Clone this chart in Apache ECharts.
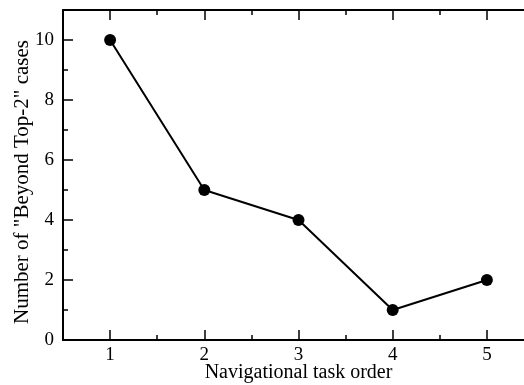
<!DOCTYPE html>
<html>
<head>
<meta charset="utf-8">
<script src="https://cdn.jsdelivr.net/npm/echarts@6/dist/echarts.min.js"></script>
<style>
  html, body { margin: 0; padding: 0; background: #fff; }
  #chart { width: 524px; height: 385px; }
</style>
</head>
<body>
<div id="chart"></div>
<script>
const TASK_ORDER = [1, 2, 3, 4, 5]
const BEYOND_TOP2 = [10, 5, 4, 1, 2]

const X_MAJOR_TICKS = [1, 2, 3, 4, 5]
const X_MINOR_TICKS = [1.5, 2.5, 3.5, 4.5]
const Y_MAJOR_TICKS = [0, 2, 4, 6, 8, 10]
const Y_MINOR_TICKS = [1, 3, 5, 7, 9]

const FONT = 'Liberation Serif'
const INK = '#000'

const chart = echarts.init(document.getElementById('chart'))

// extra axis that only draws a set of ticks (minor ticks, mirrored top ticks)
function tickAxis(position, values, len, extra) {
  return Object.assign({
    type: 'value',
    position: position,
    axisLine: { show: false },
    axisTick: { show: true, inside: true, length: len, customValues: values, lineStyle: { color: INK, width: 1.5 } },
    axisLabel: { show: false },
    splitLine: { show: false },
  }, extra)
}

chart.setOption({
  animation: false,
  grid: { left: 63, top: 10, right: -10, bottom: 45, outerBoundsMode: 'none' },
  xAxis: [
    {
      type: 'value',
      position: 'bottom',
      min: 0.5,
      max: 5.5,
      name: 'Navigational task order',
      nameLocation: 'middle',
      nameGap: 23,
      nameMoveOverlap: false,
      nameTextStyle: { fontFamily: FONT, fontSize: 20, color: INK },
      axisLine: { show: true, lineStyle: { color: INK, width: 2 } },
      axisTick: { show: true, inside: true, length: 10, customValues: X_MAJOR_TICKS, lineStyle: { color: INK, width: 1.5 } },
      axisLabel: { customValues: X_MAJOR_TICKS, fontFamily: FONT, fontSize: 19, color: INK, margin: 6 },
      splitLine: { show: false },
    },
    tickAxis('bottom', X_MINOR_TICKS, 5, { min: 0.5, max: 5.5 }),
    Object.assign(tickAxis('top', X_MAJOR_TICKS, 10, { min: 0.5, max: 5.5 }), {
      axisLine: { show: true, lineStyle: { color: INK, width: 2 } },
    }),
    tickAxis('top', X_MINOR_TICKS, 5, { min: 0.5, max: 5.5 }),
  ],
  yAxis: [
    {
      type: 'value',
      position: 'left',
      min: 0,
      max: 11,
      name: 'Number of "Beyond Top-2" cases',
      nameLocation: 'middle',
      nameGap: 30,
      nameMoveOverlap: false,
      nameTextStyle: { fontFamily: FONT, fontSize: 21, color: INK, padding: [0, 14, 0, 0] },
      axisLine: { show: true, lineStyle: { color: INK, width: 2 } },
      axisTick: { show: true, inside: true, length: 10, customValues: Y_MAJOR_TICKS, lineStyle: { color: INK, width: 1.5 } },
      axisLabel: { customValues: Y_MAJOR_TICKS, fontFamily: FONT, fontSize: 19, color: INK, margin: 9 },
      splitLine: { show: false },
    },
    tickAxis('left', Y_MINOR_TICKS, 5, { min: 0, max: 11 }),
  ],
  series: [
    {
      type: 'line',
      xAxisIndex: 0,
      yAxisIndex: 0,
      data: TASK_ORDER.map((x, i) => [x, BEYOND_TOP2[i]]),
      symbol: 'circle',
      symbolSize: 12,
      lineStyle: { color: INK, width: 2 },
      itemStyle: { color: INK },
    },
  ],
})
</script>
</body>
</html>
